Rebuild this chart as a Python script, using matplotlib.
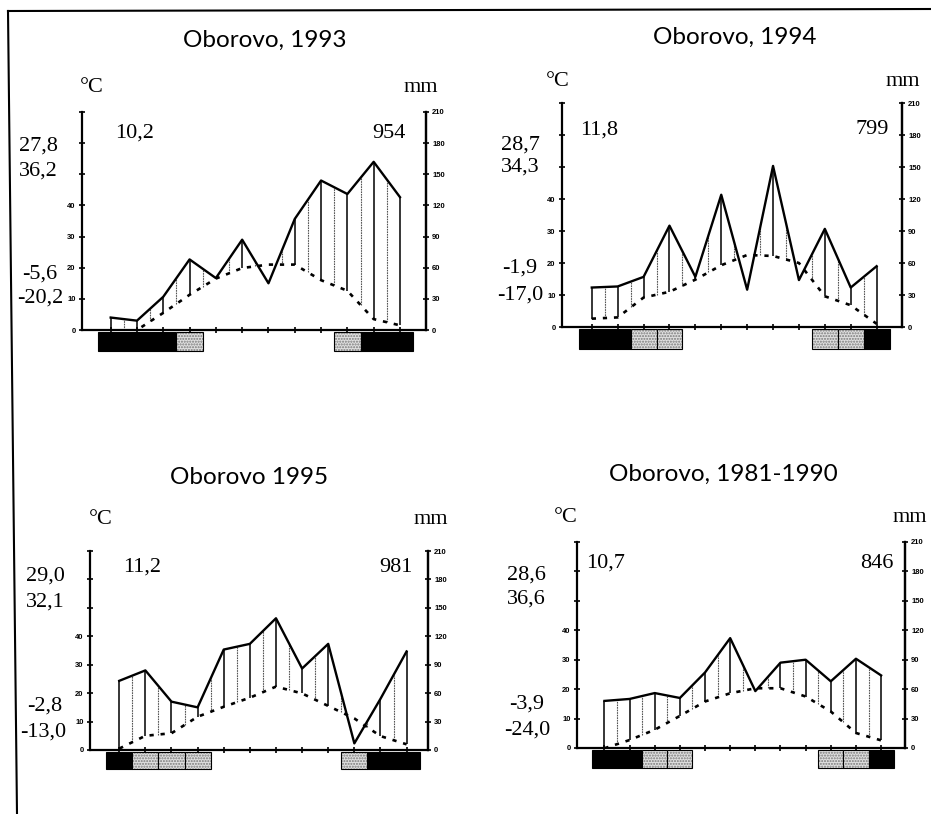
import numpy as np
import matplotlib.pyplot as plt
from matplotlib.patches import Rectangle
from matplotlib.lines import Line2D

months = np.arange(1, 13)

titles = ["Oborovo, 1993", "Oborovo, 1994", "Oborovo 1995", "Oborovo, 1981-1990"]

# monthly mean temperature (°C)
temp_1993 = [-3.0, 0.0, 5.5, 11.3, 16.5, 19.9, 21.0, 21.0, 16.0, 12.6, 3.5, 1.5]
temp_1994 = [2.6, 3.0, 9.2, 11.0, 14.8, 19.3, 22.5, 22.2, 20.0, 9.6, 6.8, 1.0]
temp_1995 = [0.5, 5.0, 5.9, 11.7, 15.2, 18.4, 22.3, 19.9, 15.5, 11.1, 4.9, 2.0]
temp_8190 = [-0.1, 2.7, 6.2, 10.9, 15.8, 18.6, 20.3, 20.3, 17.5, 12.4, 5.1, 2.6]

# monthly precipitation (mm)
prec_1993 = [12, 9, 32, 68, 50, 87, 45, 107, 144, 131, 162, 128]
prec_1994 = [37, 38, 47, 95, 47, 124, 35, 151, 44, 92, 37, 57]
prec_1995 = [73, 84, 51, 45, 106, 112, 139, 86, 112, 7, 54, 104]
prec_8190 = [48, 50, 56, 51, 77, 112, 58, 87, 90, 68, 91, 74]

# frost months: 2 = black, 1 = stippled, 0 = none
frost_1993 = [2, 2, 2, 1, 0, 0, 0, 0, 0, 1, 2, 2]
frost_1994 = [2, 2, 1, 1, 0, 0, 0, 0, 0, 1, 1, 2]
frost_1995 = [2, 1, 1, 1, 0, 0, 0, 0, 0, 1, 2, 2]
frost_8190 = [2, 2, 1, 1, 0, 0, 0, 0, 0, 1, 1, 2]

mean_temp = ["10,2", "11,8", "11,2", "10,7"]
total_prec = ["954", "799", "981", "846"]
extremes = [["27,8", "36,2", "-5,6", "-20,2"],
            ["28,7", "34,3", "-1,9", "-17,0"],
            ["29,0", "32,1", "-2,8", "-13,0"],
            ["28,6", "36,6", "-3,9", "-24,0"]]

temp_ticks = [0, 10, 20, 30, 40, 50, 60, 70]
temp_labels = ["0", "10", "20", "30", "40", "", "", ""]
prec_ticks = [0, 30, 60, 90, 120, 150, 180, 210]

temps = [temp_1993, temp_1994, temp_1995, temp_8190]
precs = [prec_1993, prec_1994, prec_1995, prec_8190]
frosts = [frost_1993, frost_1994, frost_1995, frost_8190]

W, H = 931, 814
fig = plt.figure(figsize=(W / 100, H / 100), dpi=100)
serif = "Liberation Serif"
titlefont = "Lato"


def fx(x):
    return x / W


def fy(y):
    return 1 - y / H


# panel boxes in pixels: left, right, bottom(0), top(210) and x limits
boxes = [(82, 426, 330, 112, (-0.09, 12.99)),
         (562, 902, 327, 103, (-0.15, 12.98)),
         (90, 428, 750, 551, (-0.12, 12.82)),
         (577, 905, 748, 542, (-0.09, 12.95))]

# text anchor positions (pixels)
title_pos = [(265, 40), (735, 37), (249, 477), (723, 474)]
degc_pos = [(92, 87), (558, 82), (101, 519), (566, 517)]
mm_pos = [(421, 87), (903, 82), (431, 519), (910, 517)]
mean_pos = [(135, 133), (599, 130), (142, 567), (606, 563)]
total_pos = [(389, 133), (872, 130), (396, 567), (877, 563)]
ext_pos = [[(38, 146), (38, 171), (40, 274), (40, 298)],
           [(520, 145), (520, 167), (520, 268), (520, 295)],
           [(45, 576), (45, 602), (45, 706), (43, 732)],
           [(526, 575), (526, 599), (527, 704), (527, 730)]]

for i in range(4):
    l, r, b, t, xl = boxes[i]
    ax = fig.add_axes([fx(l), fy(b), fx(r - l), (b - t) / H])
    ax.set_xlim(*xl)
    ax.set_ylim(0, 210)
    tm = np.array(temps[i]) * 3.0
    pr = np.array(precs[i], dtype=float)

    # humid period hatching
    xs = np.arange(1, 12.01, 0.5)
    pi = np.interp(xs, months, pr)
    ti = np.maximum(np.interp(xs, months, tm), 0)
    for k, x in enumerate(xs):
        if pi[k] > ti[k] + 1:
            if k % 2 == 0:
                ax.vlines(x, ti[k], pi[k], color="black", lw=1.1)
            else:
                ax.vlines(x, ti[k], pi[k], color="#555555", lw=0.8,
                          linestyles=(0, (1.5, 0.8)))

    ax.plot(months, pr, color="black", lw=1.7)
    ax.plot(months, tm, color="black", lw=1.9, linestyle=(0, (1.6, 2.6)))

    # frost bars
    for m, f in zip(months, frosts[i]):
        if f == 2:
            ax.add_patch(Rectangle((m - 0.5, -20.5), 1, 18.5, facecolor="black",
                                   edgecolor="black", lw=0.8, clip_on=False))
        elif f == 1:
            ax.add_patch(Rectangle((m - 0.5, -20.5), 1, 18.5, facecolor="#e0e0e0",
                                   edgecolor="#7a7a7a", hatch="......", lw=0,
                                   clip_on=False))
            ax.add_patch(Rectangle((m - 0.5, -20.5), 1, 18.5, fill=False,
                                   edgecolor="black", lw=0.8, clip_on=False))

    ax.spines["top"].set_visible(False)
    for s in ["left", "right", "bottom"]:
        ax.spines[s].set_linewidth(1.6)
    ax.set_xticks(months)
    ax.set_xticklabels([])
    ax.tick_params(axis="x", direction="inout", length=4, width=1.2)
    ax.set_yticks([v * 3 for v in temp_ticks])
    ax.set_yticklabels(temp_labels, fontsize=5.5, fontweight="bold",
                       family="Liberation Sans")
    ax.tick_params(axis="y", direction="inout", length=5, width=1.2, pad=2)

    ax2 = ax.twinx()
    ax2.set_ylim(0, 210)
    ax2.set_yticks(prec_ticks)
    ax2.set_yticklabels([str(v) for v in prec_ticks], fontsize=5.5,
                        fontweight="bold", family="Liberation Sans")
    ax2.tick_params(axis="y", direction="inout", length=5, width=1.2, pad=2)
    for s in ["top", "left", "bottom"]:
        ax2.spines[s].set_visible(False)
    ax2.spines["right"].set_linewidth(1.6)

    fig.text(fx(title_pos[i][0]), fy(title_pos[i][1]), titles[i],
             fontsize=17.5, family=titlefont, ha="center", va="center")
    fig.text(fx(degc_pos[i][0]), fy(degc_pos[i][1]), "°C",
             fontsize=16, family=serif, ha="center", va="center")
    fig.text(fx(mm_pos[i][0]), fy(mm_pos[i][1]), "mm",
             fontsize=16, family=serif, ha="center", va="center")
    fig.text(fx(mean_pos[i][0]), fy(mean_pos[i][1]), mean_temp[i],
             fontsize=16, family=serif, ha="center", va="center")
    fig.text(fx(total_pos[i][0]), fy(total_pos[i][1]), total_prec[i],
             fontsize=16, family=serif, ha="center", va="center")
    for txt, (px, py) in zip(extremes[i], ext_pos[i]):
        fig.text(fx(px), fy(py), txt, fontsize=16, family=serif,
                 ha="center", va="center")

# scanned page border
fig.add_artist(Line2D([fx(8), fx(931)], [fy(11), fy(9)], color="black", lw=1.5))
fig.add_artist(Line2D([fx(8), fx(17)], [fy(11), fy(814)], color="black", lw=1.5))

fig.savefig("out.png", dpi=100)
